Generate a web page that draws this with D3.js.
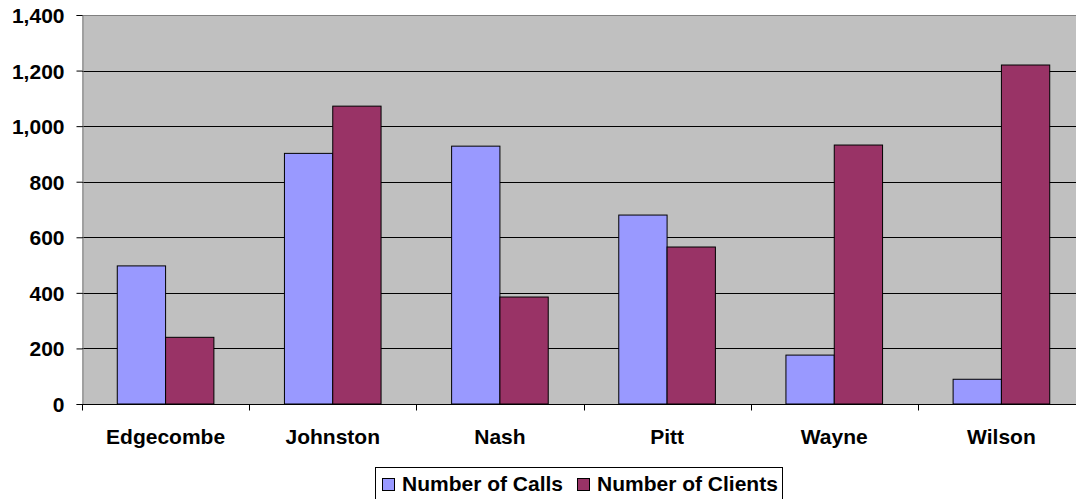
<!DOCTYPE html>
<html><head><meta charset="utf-8">
<script src="https://cdn.jsdelivr.net/npm/d3@7"></script>
<style>body{margin:0;background:#fff}svg{display:block}</style>
</head><body><svg id="c" width="1076" height="499"></svg>
<script>
const categories = ["Edgecombe","Johnston","Nash","Pitt","Wayne","Wilson"];
const seriesNames = ["Number of Calls","Number of Clients"];
const calls = [497, 902, 928, 680, 176, 89];
const clients = [240, 1072, 385, 565, 932, 1220];
const yTicks = [0,200,400,600,800,1000,1200,1400];
const colors = ["#9999FF","#993366"];

const FONT = "'Liberation Sans', Arial, sans-serif";
const svg = d3.select("#c");
const L = 82, T = 15, B = 404, R = 1085;
const x = d3.scaleBand().domain(categories).range([L, R]).paddingInner(0).paddingOuter(0);
const y = d3.scaleLinear().domain([0,1400]).range([B, T]);

svg.append("rect").attr("x",L).attr("y",T).attr("width",R-L).attr("height",B-T).attr("fill","#C0C0C0");
svg.append("line").attr("x1",L).attr("x2",R).attr("y1",T+0.5).attr("y2",T+0.5).attr("stroke","#808080");

// gridlines
svg.append("g").selectAll("line").data(yTicks.filter(d=>d>0 && d<1400)).join("line")
  .attr("x1",L).attr("x2",R).attr("y1",d=>Math.round(y(d))+0.5).attr("y2",d=>Math.round(y(d))+0.5)
  .attr("stroke","#000").attr("stroke-width",1);

const barW = x.bandwidth()*0.289;
const gap = (x.bandwidth() - 2*barW)/2;
const data = [calls, clients];
const g = svg.append("g");
data.forEach((vals, si) => {
  g.selectAll(null).data(categories).join("rect")
    .attr("x", (c)=> x(c) + gap + si*barW)
    .attr("y", (c,i)=> y(vals[i]))
    .attr("width", barW)
    .attr("height", (c,i)=> B - y(vals[i]))
    .attr("fill", colors[si]).attr("stroke","#000").attr("stroke-width",1);
});

// y axis
const yAxis = d3.axisLeft(y).tickValues(yTicks).tickSize(6).tickPadding(12).tickFormat(d3.format(","));
const ya = svg.append("g").attr("transform",`translate(${L+0.5},0)`).call(yAxis);
ya.select(".domain").attr("stroke","#808080");
ya.selectAll(".tick line").attr("stroke","#000");
ya.selectAll("text").attr("font-family",FONT).attr("font-weight","bold").attr("font-size","21px").attr("fill","#000").attr("dy","0.36em");

// x axis
const xa = svg.append("g").attr("transform",`translate(0,${B+0.5})`);
xa.append("line").attr("x1",L).attr("x2",R).attr("stroke","#000");
xa.selectAll("line.t").data(d3.range(categories.length+1)).join("line").attr("class","t")
  .attr("x1",i=>Math.round(L+i*x.bandwidth())+0.5).attr("x2",i=>Math.round(L+i*x.bandwidth())+0.5)
  .attr("y1",0).attr("y2",6).attr("stroke","#000");
xa.selectAll("text").data(categories).join("text")
  .attr("x",c=>x(c)+x.bandwidth()/2).attr("y",39).attr("text-anchor","middle")
  .attr("font-family",FONT).attr("font-weight","bold").attr("font-size","21px")
  .text(c=>c);

// legend
const lg = svg.append("g");
lg.append("rect").attr("x",375.5).attr("y",467.5).attr("width",407).attr("height",36).attr("fill","#fff").attr("stroke","#000");
const items = [{n:seriesNames[0],c:colors[0],x:382},{n:seriesNames[1],c:colors[1],x:577}];
items.forEach(it=>{
  lg.append("rect").attr("x",it.x+0.5).attr("y",478.5).attr("width",12).attr("height",12).attr("fill",it.c).attr("stroke","#000");
  lg.append("text").attr("x",it.x+20).attr("y",491).attr("font-family",FONT)
    .attr("font-weight","bold").attr("font-size","21px").text(it.n);
});
</script></body></html>
